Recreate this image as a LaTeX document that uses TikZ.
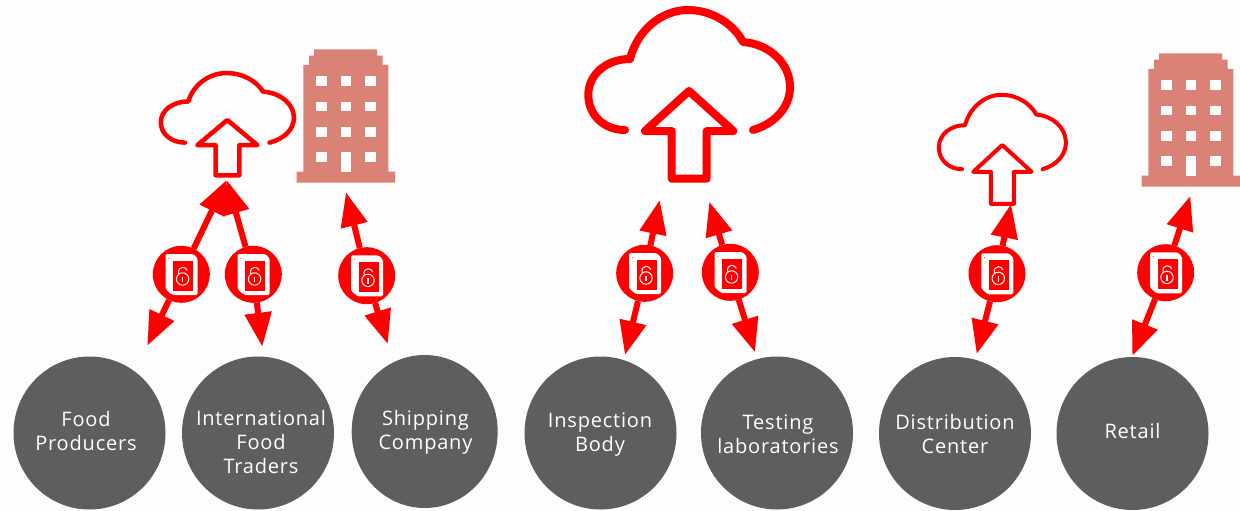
\documentclass[tikz,border=0pt]{standalone}
\usepackage{fontspec}
\setmainfont[LetterSpace=4]{Open Sans}
\usetikzlibrary{arrows.meta, shapes.geometric}
\definecolor{pagebg}{RGB}{253,253,253}
\definecolor{towerred}{RGB}{219,130,119}
\definecolor{actorgrey}{RGB}{94,94,94}
\tikzset{
	actor/.style={ellipse, fill=actorgrey, inner sep=0pt, outer sep=0pt, minimum width=152pt, minimum height=153pt},
	actortext/.style={text=white, align=center, inner sep=0pt, font=\fontsize{20}{24}\selectfont},
	lockdisc/.style={circle, fill=red, inner sep=0pt, outer sep=0pt, minimum size=57pt},
	link/.style={-{Triangle[length=34pt,width=26pt]}, draw=red, line width=6pt},
	cloudline/.pic={
		\draw[red, line cap=round, line join=round]
		(-64,39) .. controls (-85,39) and (-100.7,24) .. (-100.7,4)
		.. controls (-100.7,-17) and (-82,-32) .. (-59,-32)
		.. controls (-52,-60) and (-28,-81) .. (-1,-81)
		.. controls (22,-81) and (44,-68) .. (54,-49)
		.. controls (80,-47) and (101,-28) .. (101,-4)
		.. controls (101,17) and (85,33) .. (64,39);
	},
	uparrow/.pic={
		\draw[red, line cap=round, line join=round]
		(0,0) -- (44.3,40) -- (17.7,40) -- (17.7,87.7) -- (-17.3,87.7) -- (-17.3,40) -- (-44,40) -- cycle;
	},
	tower/.pic={
		\fill[towerred] (17.3,0) -- (80.3,0) -- (80.3,6.4) -- (86,6.4) -- (86,15.7) -- (91.6,15.7) -- (91.6,122.4)
		-- (98.3,122.4) -- (98.3,133.4) -- (0,133.4) -- (0,122.4) -- (6.6,122.4) -- (6.6,15.7) -- (12.3,15.7) -- (12.3,6.4) -- (17.3,6.4) -- cycle;
		\foreach \wx in {19.3,44,68.6}
		\foreach \wy in {26.7,52.4,77.7}
		\fill[pagebg] (\wx,\wy) rectangle ++(10.6,9.7);
		\fill[pagebg] (19.3,103) rectangle ++(10.6,9.7);
		\fill[pagebg] (68.6,103) rectangle ++(10.6,9.7);
		\fill[pagebg] (44,103) rectangle ++(10.6,19.4);
	},
	padlock/.pic={
		\fill[white, rounded corners=1.5pt] (-13.7,-20.3) -- (12,-20.3) -- (16.3,-16) -- (16.3,20.7) -- (-9,20.7) -- (-15.7,15) -- (-15.7,-20.3) -- cycle;
		\fill[red] (-8,-13.7) rectangle (12,16.3);
		\draw[white, line width=1pt] (1.3,4.7) circle (6.2);
		\draw[white, line width=1pt] (-2.6,-0.2) .. controls (-3.4,-4.5) and (-1.5,-7) .. (1.3,-7) .. controls (3.5,-7) and (5.2,-5.8) .. (6,-3.7);
		\fill[white] (0.6,2.5) rectangle (2,8);
		\fill[red] (-12.5,-16) circle (0.5);
	}
}
\begin{document}
\begin{tikzpicture}[x=1pt, y=-1pt]
	\fill[pagebg] (0,0) rectangle (1240,511);
	\useasboundingbox (0,0) rectangle (1240,511);

	\node[actor] (food) at (89.5,433) {};
	\node[actor] (traders) at (258,433) {};
	\node[actor, minimum width=146pt] (shipping) at (424.7,431.5) {};
	\node[actor] (inspection) at (600.5,433) {};
	\node[actor] (testing) at (777,433) {};
	\node[actor] (distribution) at (955,433.5) {};
	\node[actor] (retail) at (1132.5,433.5) {};

	\node[actortext] (foodtext) at (86,431) {Food\\Producers};
	\node[actortext] (traderstext) at (261,442) {International\\Food\\Traders};
	\node[actortext] (shippingtext) at (425.5,432.5) {Shipping\\Company};
	\node[actortext] (inspectiontext) at (600,434.5) {Inspection\\Body};
	\node[actortext] (testingtext) at (778,434) {Testing\\laboratories};
	\node[actortext] (distributiontext) at (955,434) {Distribution\\Center};
	\node[actortext] (retailtext) at (1132.5,431) {Retail};

	\pic[xscale=.66, yscale=.58, line width=4.5pt] at (227.3,120) {cloudline};
	\pic[xscale=.68, yscale=.63, line width=4.5pt] at (227.3,120) {uparrow};
	\pic[line width=8pt] at (689,91) {cloudline};
	\pic[line width=8pt] at (689,91) {uparrow};
	\pic[xscale=.63, yscale=.62, line width=4pt] at (1002.3,145) {cloudline};
	\pic[xscale=.66, yscale=.67, line width=4pt] at (1002.3,145) {uparrow};
	\pic at (296.7,49.3) {tower};
	\pic at (1141.7,53.3) {tower};

	\node[lockdisc] (lockA) at (181.3,274.3) {};
	\node[lockdisc] (lockB) at (253.3,274.3) {};
	\node[lockdisc] (lockC) at (366.7,275.7) {};
	\node[lockdisc] (lockD) at (644.7,273.3) {};
	\node[lockdisc] (lockE) at (730.3,272.3) {};
	\node[lockdisc] (lockF) at (997,273.7) {};
	\node[lockdisc] (lockG) at (1165.7,272.7) {};

	\foreach \l in {lockA,lockB,lockC,lockD,lockE,lockF,lockG}
	\pic at (\l) {padlock};

	\coordinate (cloudtip) at (226.7,180);
	\coordinate (foodtip) at (147.3,345.7);
	\coordinate (traderstip) at (262.3,346.7);
	\coordinate (towertip) at (346,192.3);
	\coordinate (shippingtip) at (387.7,344);
	\coordinate (bigtipA) at (659.7,200);
	\coordinate (inspectiontip) at (625,355);
	\coordinate (bigtipB) at (709.3,201.7);
	\coordinate (testingtip) at (755,352.3);
	\coordinate (smalltip) at (1011,204);
	\coordinate (distributiontip) at (976.7,354);
	\coordinate (retailtowertip) at (1190.3,196);
	\coordinate (retailtip) at (1132.3,356);

	\draw
	(lockA) edge[link] (cloudtip)
	edge[link] (foodtip)
	(lockB) edge[link] (cloudtip)
	edge[link] (traderstip)
	(lockC) edge[link] (towertip)
	edge[link] (shippingtip)
	(lockD) edge[link] (bigtipA)
	edge[link] (inspectiontip)
	(lockE) edge[link] (bigtipB)
	edge[link] (testingtip)
	(lockF) edge[link] (smalltip)
	edge[link] (distributiontip)
	(lockG) edge[link] (retailtowertip)
	edge[link] (retailtip);
\end{tikzpicture}
\end{document}
